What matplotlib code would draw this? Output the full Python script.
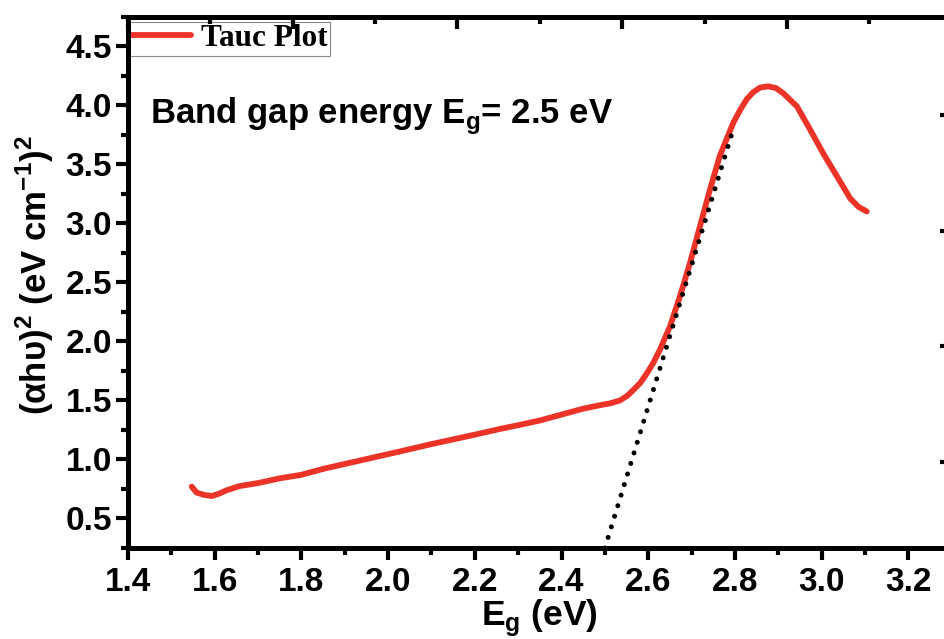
import matplotlib
matplotlib.use("Agg")
import matplotlib.pyplot as plt
from matplotlib.ticker import MultipleLocator

# ---- data ----
energy = [1.547, 1.558, 1.575, 1.593, 1.61, 1.628, 1.658, 1.70, 1.75, 1.80, 1.85,
          1.91, 1.97, 2.03, 2.10, 2.15, 2.20, 2.26, 2.30, 2.35, 2.41, 2.45, 2.489,
          2.512, 2.535, 2.552, 2.566, 2.582, 2.597, 2.612, 2.627, 2.650, 2.673,
          2.696, 2.719, 2.742, 2.765, 2.796, 2.812, 2.827, 2.842, 2.858, 2.877,
          2.895, 2.912, 2.943, 2.974, 3.004, 3.035, 3.066, 3.085, 3.104]
tauc = [0.77, 0.72, 0.70, 0.69, 0.71, 0.74, 0.775, 0.80, 0.84, 0.87, 0.92,
        0.97, 1.02, 1.07, 1.13, 1.17, 1.21, 1.26, 1.29, 1.33, 1.39, 1.43, 1.46,
        1.475, 1.50, 1.54, 1.59, 1.65, 1.73, 1.82, 1.93, 2.125, 2.38,
        2.66, 2.97, 3.28, 3.57, 3.85, 3.96, 4.05, 4.11, 4.15, 4.16,
        4.145, 4.10, 3.99, 3.79, 3.59, 3.40, 3.21, 3.14, 3.10]
fit_x = [2.50, 2.793]
fit_y = [0.25, 3.76]
xticks = [1.4, 1.6, 1.8, 2.0, 2.2, 2.4, 2.6, 2.8, 3.0, 3.2]
yticks = [0.5, 1.0, 1.5, 2.0, 2.5, 3.0, 3.5, 4.0, 4.5]

plt.rcParams['mathtext.fontset'] = 'custom'
plt.rcParams['mathtext.rm'] = 'Liberation Sans'
plt.rcParams['mathtext.bf'] = 'Liberation Sans:bold'
plt.rcParams['font.family'] = ['Liberation Sans', 'DejaVu Sans']

fig = plt.figure(figsize=(9.45, 6.39), dpi=100)
W, H = 945, 639
ax = fig.add_axes([128 / W, (H - 548) / H, 823.7 / W, 531.3 / H])

red = '#EC3328'
ax.plot(energy, tauc, color=red, lw=4.2, solid_capstyle='round',
        solid_joinstyle='round', label='Tauc Plot', zorder=3)
ax.plot(fit_x, fit_y, color='black', lw=3.6, linestyle=(0, (0.01, 2.2)),
        dash_capstyle='round', zorder=4)

ax.set_xlim(1.4, 3.3)
ax.set_ylim(0.25, 4.75)
ax.set_xticks(xticks)
ax.set_yticks(yticks)
ax.set_xticklabels([f'{t:.1f}' for t in xticks])
ax.set_yticklabels([f'{t:.1f}' for t in yticks])
ax.xaxis.set_minor_locator(MultipleLocator(0.1))
ax.yaxis.set_minor_locator(MultipleLocator(0.25))

for s in ax.spines.values():
    s.set_linewidth(3.6)
ax.tick_params(which='major', direction='out', length=8.6, width=3, labelsize=24,
               top=False, right=False)
ax.tick_params(which='minor', direction='out', length=5, width=3, top=False, right=False)
for lab in ax.get_xticklabels() + ax.get_yticklabels():
    lab.set_fontweight('bold')
ax.tick_params(axis='x', which='major', pad=5)
ax.tick_params(axis='y', which='major', pad=3)

ax.set_xlabel(r'E$_{\mathbf{g}}$ (eV)', fontsize=25.5, fontweight='bold', labelpad=0)
ax.set_ylabel(r'(αhυ)$^{\mathbf{2}}$ (eV cm$^{\mathbf{-1}}$)$^{\mathbf{2}}$',
              fontsize=25, fontweight='bold')
ax.yaxis.set_label_coords(-(128 - 56) / 823.7, 0.514)

ax.text((150 - 128) / 823.7, (548 - 116) / 531.3,
        r'Band gap energy E$_{\mathbf{g}}$= 2.5 eV', transform=ax.transAxes,
        fontsize=25, fontweight='bold', va='center', ha='left')

leg = ax.legend(loc='upper left', bbox_to_anchor=(0.0, 1 - 5 / 531.3),
                borderaxespad=0, frameon=True, fancybox=False, framealpha=1,
                edgecolor='#888888', borderpad=0.08, handlelength=1.95,
                handletextpad=0.3,
                prop={'family': 'Liberation Serif', 'weight': 'bold', 'size': 22.5})
leg.get_frame().set_linewidth(0.8)

# top and right secondary axes (ticks only, inward)
axt = ax.twiny()
axt.set_xlim(0, 5)
axt.xaxis.set_major_locator(MultipleLocator(1))
axt.xaxis.set_minor_locator(MultipleLocator(0.5))
axt.tick_params(axis='x', which='major', direction='in', length=8.6, width=3,
                labeltop=False)
axt.tick_params(axis='x', which='minor', direction='in', length=5, width=3)
for s in axt.spines.values():
    s.set_linewidth(3.6)

axr = ax.twinx()
axr.set_ylim(0.257, 4.849)
axr.yaxis.set_major_locator(MultipleLocator(1))
axr.yaxis.set_minor_locator(MultipleLocator(0.5))
axr.tick_params(axis='y', which='major', direction='in', length=8.6, width=3,
                labelright=False)
axr.tick_params(axis='y', which='minor', direction='in', length=5, width=3)
for s in axr.spines.values():
    s.set_linewidth(3.6)

fig.savefig('out.png', dpi=100)
